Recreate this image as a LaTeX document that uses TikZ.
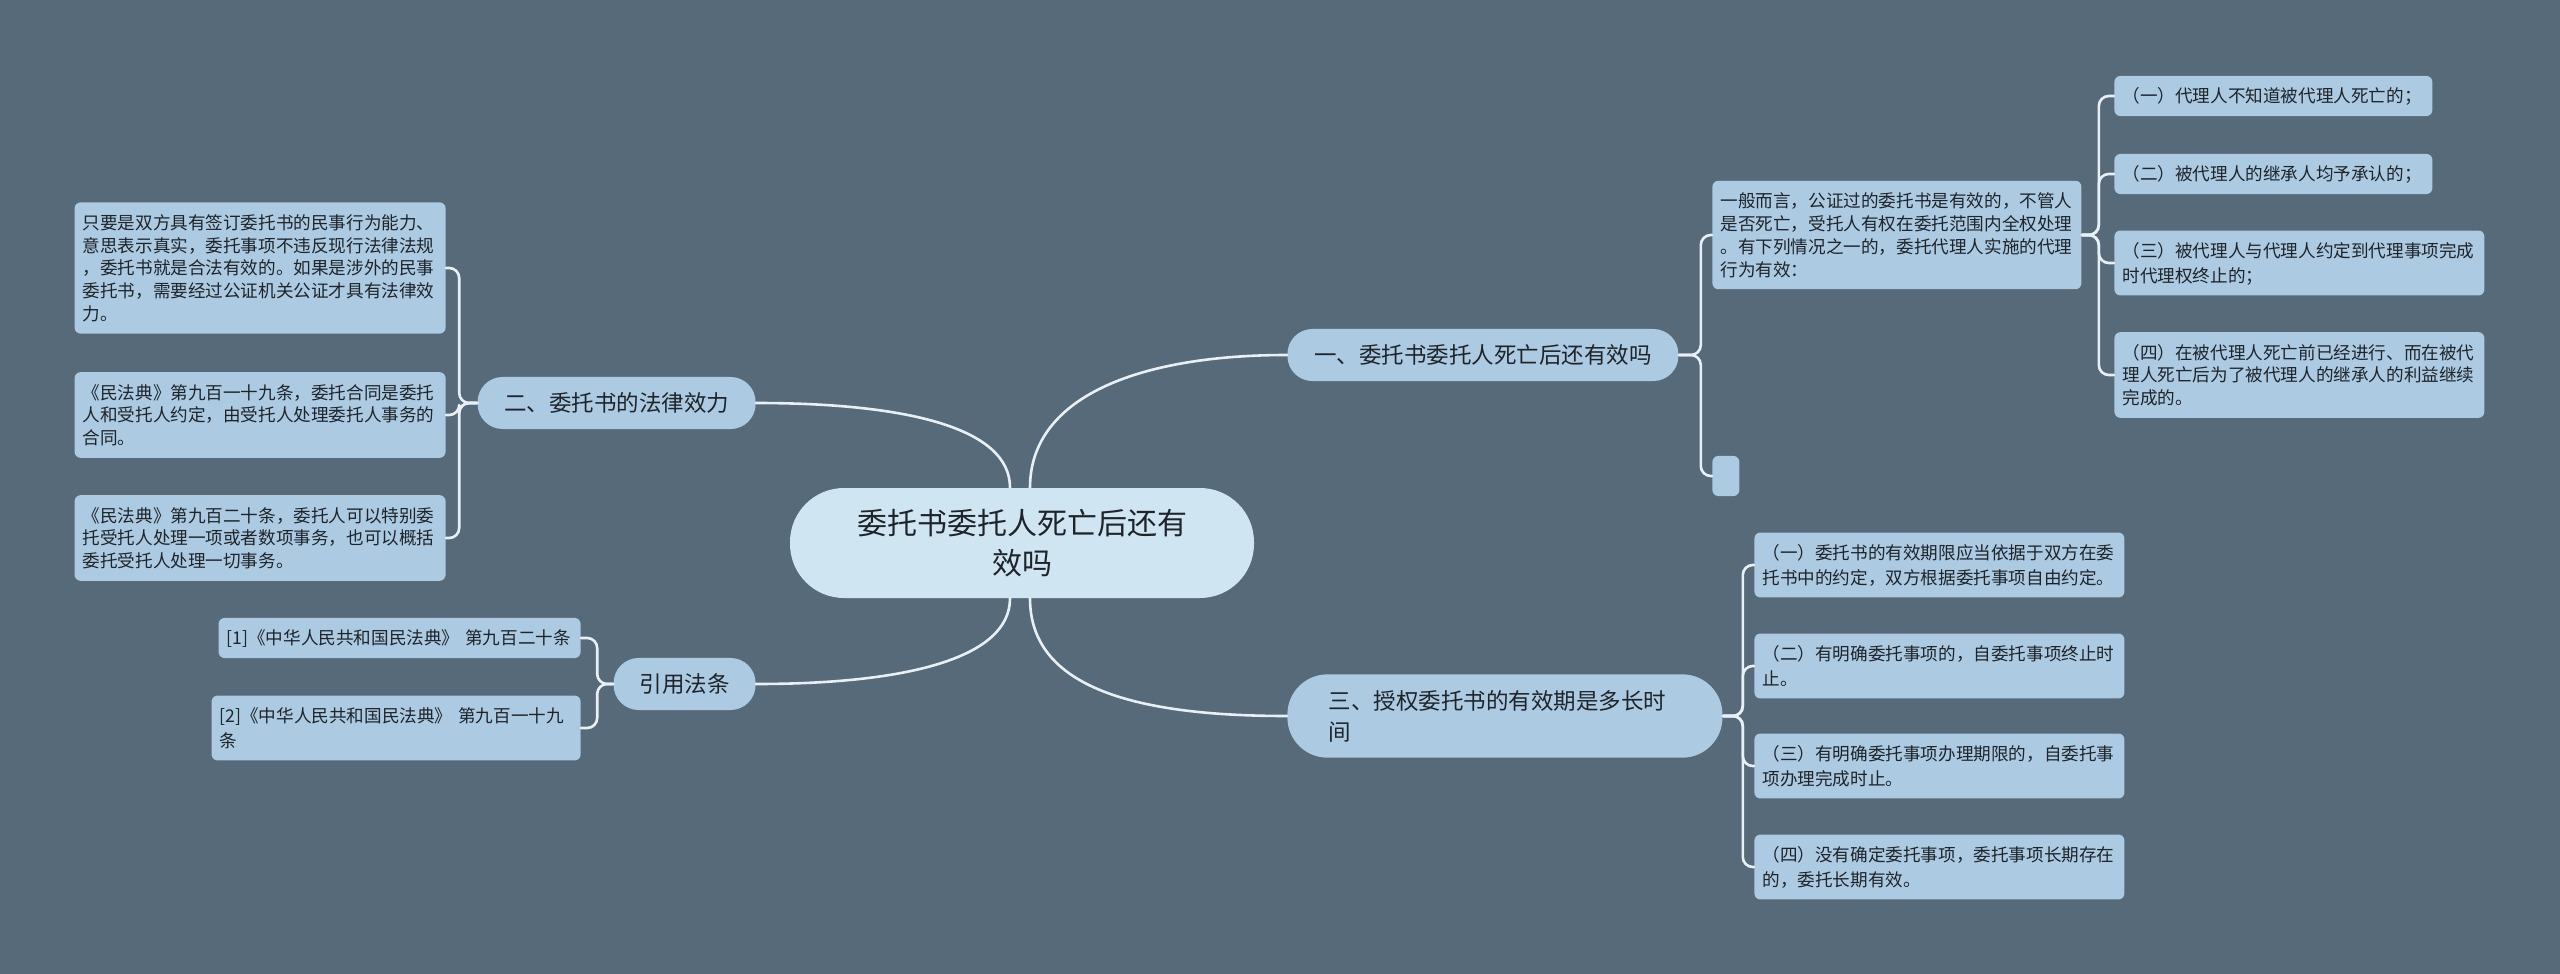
\documentclass[tikz,border=0pt]{standalone}
\usepackage{fontspec}
\setmainfont{Noto Sans CJK SC}
\usepackage{xcolor}
\definecolor{bgslate}{RGB}{86,106,121}
\definecolor{leafblue}{RGB}{172,202,225}
\definecolor{rootblue}{RGB}{207,229,242}
\definecolor{linewhite}{RGB}{232,240,245}
\definecolor{inkdark}{RGB}{30,36,42}
\newcommand\cjkstrut{\rule[-0.26em]{0pt}{1.3em}}
\tikzset{
  every picture/.style={line join=round, line cap=round, x=0.5pt, y=-0.5pt},
  conn/.style={draw=linewhite, line width=1.3pt, rounded corners=5pt},
  boxtext/.style={text=inkdark, execute at begin node=\cjkstrut, execute at end node=\cjkstrut},
  leaf/.style={boxtext, fill=leafblue, rounded corners=3pt, inner xsep=4pt, inner ysep=4.3pt, align=left, font=\fontsize{8.8pt}{11.4pt}\selectfont},
  branch/.style={boxtext, fill=leafblue, rounded corners=12.5pt, inner xsep=13pt, inner ysep=5.7pt, minimum height=26pt, font=\fontsize{11.25pt}{14.2pt}\selectfont},
  rootnode/.style={boxtext, fill=rootblue, rounded corners=27pt, inner xsep=10pt, inner ysep=7.75pt, align=center, text width=212pt, font=\fontsize{15pt}{20pt}\selectfont},
}
\begin{document}
\begin{tikzpicture}
\fill[bgslate] (0,0) rectangle (2560,974);
\useasboundingbox (0,0) rectangle (2560,974);

\node[rootnode] (root) at (1022,543) {委托书委托人死亡后还有\\效吗};

\node[branch, anchor=west, minimum width=195.5pt] (b1) at (1287,355) {一、委托书委托人死亡后还有效吗};
\node[branch, anchor=east, minimum width=139pt] (b2) at (756,403) {二、委托书的法律效力};
\node[branch, anchor=west, align=left, text width=176pt, inner xsep=20.75pt, rounded corners=20pt] (b3) at (1287,716) {三、授权委托书的有效期是多长时\\间};
\node[branch, anchor=east, minimum width=71pt] (b4) at (756,684) {引用法条};

\node[leaf, anchor=east, text width=177.5pt] (l1) at (446,268) {只要是双方具有签订委托书的民事行为能力、\\意思表示真实，委托事项不违反现行法律法规\\，委托书就是合法有效的。如果是涉外的民事\\委托书，需要经过公证机关公证才具有法律效\\力。};
\node[leaf, anchor=east, text width=177.5pt] (l2) at (446,415) {《民法典》第九百一十九条，委托合同是委托\\人和受托人约定，由受托人处理委托人事务的\\合同。};
\node[leaf, anchor=east, text width=177.5pt] (l3) at (446,538) {《民法典》第九百二十条，委托人可以特别委\\托受托人处理一项或者数项事务，也可以概括\\委托受托人处理一切事务。};

\node[leaf, anchor=east, text width=173pt] (r1) at (581,638) {[1]《中华人民共和国民法典》 第九百二十条};
\node[leaf, anchor=east, text width=176.5pt] (r2) at (581,728) {[2]《中华人民共和国民法典》 第九百一十九\\条};

\node[leaf, anchor=west, text width=176.5pt] (t1) at (1712,235) {一般而言，公证过的委托书是有效的，不管人\\是否死亡，受托人有权在委托范围内全权处理\\。有下列情况之一的，委托代理人实施的代理\\行为有效：};
\node[leaf, anchor=west, minimum width=13.5pt, minimum height=19.5pt] (e1) at (1712,476) {};

\node[leaf, anchor=west, text width=151pt] (c1) at (2114,96) {（一）代理人不知道被代理人死亡的；};
\node[leaf, anchor=west, text width=151pt] (c2) at (2114,174) {（二）被代理人的继承人均予承认的；};
\node[leaf, anchor=west, text width=177pt] (c3) at (2114,263) {（三）被代理人与代理人约定到代理事项完成\\时代理权终止的；};
\node[leaf, anchor=west, text width=177pt] (c4) at (2114,375) {（四）在被代理人死亡前已经进行、而在被代\\理人死亡后为了被代理人的继承人的利益继续\\完成的。};

\node[leaf, anchor=west, text width=177pt] (d1) at (1754,565) {（一）委托书的有效期限应当依据于双方在委\\托书中的约定，双方根据委托事项自由约定。};
\node[leaf, anchor=west, text width=177pt] (d2) at (1754,666) {（二）有明确委托事项的，自委托事项终止时\\止。};
\node[leaf, anchor=west, text width=177pt] (d3) at (1754,766) {（三）有明确委托事项办理期限的，自委托事\\项办理完成时止。};
\node[leaf, anchor=west, text width=177pt] (d4) at (1754,867) {（四）没有确定委托事项，委托事项长期存在\\的，委托长期有效。};

\draw[conn] ([xshift=4pt]root.north) .. controls +(0,-90) and +(-150,0) .. (b1.west);
\draw[conn] ([xshift=-6pt]root.north) .. controls +(0,-60) and +(150,0) .. (b2.east);
\draw[conn] ([xshift=4pt]root.south) .. controls +(0,90) and +(-150,0) .. (b3.west);
\draw[conn] ([xshift=-6pt]root.south) .. controls +(0,60) and +(150,0) .. (b4.east);

\foreach \c in {t1,e1} \draw[conn] (b1.east) -- ++(22,0) |- (\c.west);
\foreach \c in {l1,l2,l3} \draw[conn] (b2.west) -- ++(-18,0) |- (\c.east);
\foreach \c in {d1,d2,d3,d4} \draw[conn] (b3.east) -- ++(20,0) |- (\c.west);
\foreach \c in {r1,r2} \draw[conn] (b4.west) -- ++(-16,0) |- (\c.east);
\foreach \c in {c1,c2,c3,c4} \draw[conn] (t1.east) -- ++(17,0) |- (\c.west);
\end{tikzpicture}
\end{document}
